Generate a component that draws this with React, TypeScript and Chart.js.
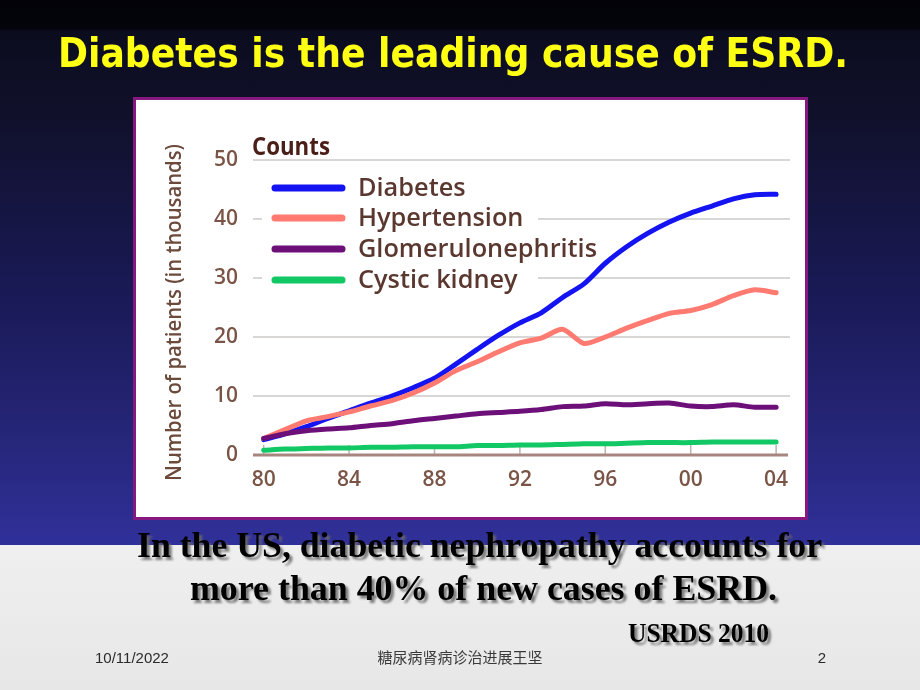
import React, { useEffect, useRef } from "react";
import { Chart, registerables } from "chart.js";

Chart.register(...registerables);

const years = [1980, 1981, 1982, 1983, 1984, 1985, 1986, 1987, 1988, 1989, 1990, 1991, 1992, 1993, 1994, 1995, 1996, 1997, 1998, 1999, 2000, 2001, 2002, 2003, 2004];
const diabetes = [2.6, 3.6, 4.8, 6.2, 7.5, 8.8, 10.0, 11.4, 13.0, 15.4, 17.9, 20.3, 22.4, 24.1, 26.7, 29.0, 32.5, 35.3, 37.6, 39.5, 41.0, 42.2, 43.4, 44.1, 44.2];
const hypertension = [2.8, 4.3, 5.8, 6.5, 7.3, 8.3, 9.2, 10.5, 12.2, 14.3, 15.8, 17.5, 19.0, 19.8, 21.3, 18.9, 20.0, 21.5, 22.8, 24.0, 24.5, 25.5, 27.0, 28.0, 27.5];
const glomerulonephritis = [2.8, 3.6, 4.1, 4.4, 4.6, 5.0, 5.3, 5.8, 6.2, 6.6, 7.0, 7.2, 7.4, 7.7, 8.2, 8.3, 8.7, 8.5, 8.7, 8.8, 8.3, 8.2, 8.5, 8.1, 8.1];
const cysticKidney = [0.8, 1.0, 1.1, 1.2, 1.2, 1.3, 1.3, 1.4, 1.4, 1.4, 1.6, 1.6, 1.7, 1.7, 1.8, 1.9, 1.9, 2.0, 2.1, 2.1, 2.1, 2.2, 2.2, 2.2, 2.2];
const xTickYears = [1980, 1984, 1988, 1992, 1996, 2000, 2004];
const seriesLabels = ["Diabetes", "Hypertension", "Glomerulonephritis", "Cystic kidney"];
const seriesColors = ["#1414f2", "#ff7a70", "#6c0f78", "#12c864"];
const yTitle = "Number of patients (in thousands)";
const countsLabel = "Counts";

const FONT = "'Open Sans', sans-serif";

function fitText(ctx: any, text: string, x: number, y: number, width: number) {
  const w = ctx.measureText(text).width;
  ctx.save();
  ctx.translate(x, y);
  ctx.scale(width / w, 1);
  ctx.fillText(text, 0, 0);
  ctx.restore();
}

const overlayPlugin = {
  id: "overlay",
  beforeDatasetsDraw(chart: any) {
    const { ctx, chartArea, scales } = chart;
    const x = scales.x;
    ctx.save();
    ctx.strokeStyle = "#bdb3b0";
    ctx.lineWidth = 1.5;
    xTickYears.forEach((yr) => {
      const px = x.getPixelForValue(yr);
      ctx.beginPath();
      ctx.moveTo(px, chartArea.bottom - 10);
      ctx.lineTo(px, chartArea.bottom);
      ctx.stroke();
    });
    ctx.strokeStyle = "#a88680";
    ctx.lineWidth = 3;
    ctx.beginPath();
    ctx.moveTo(chartArea.left, chartArea.bottom);
    ctx.lineTo(chartArea.right - 2, chartArea.bottom);
    ctx.stroke();
    ctx.fillStyle = "#ffffff";
    ctx.fillRect(125, 69, 276, 126);
    ctx.restore();
  },
  afterDraw(chart: any) {
    const { ctx } = chart;
    ctx.save();
    ctx.fillStyle = "#4a1f18";
    ctx.font = `bold 25px ${FONT}`;
    ctx.textAlign = "left";
    ctx.textBaseline = "alphabetic";
    fitText(ctx, countsLabel, 115, 54, 78);

    ctx.save();
    ctx.translate(38, 212);
    ctx.rotate(-Math.PI / 2);
    ctx.fillStyle = "#6b4a3c";
    ctx.font = `600 21px ${FONT}`;
    ctx.textAlign = "left";
    ctx.textBaseline = "middle";
    fitText(ctx, yTitle, -168, 0, 337);
    ctx.restore();

    const rows = [87, 117, 148, 179];
    ctx.font = `600 26px ${FONT}`;
    const scaleW = 239 / ctx.measureText("Glomerulonephritis").width;
    chart.data.datasets.forEach((ds: any) => {
      const idx = seriesLabels.indexOf(ds.label);
      const ry = rows[idx];
      ctx.strokeStyle = ds.borderColor;
      ctx.lineWidth = 7;
      ctx.lineCap = "round";
      ctx.beginPath();
      ctx.moveTo(138, ry);
      ctx.lineTo(205, ry);
      ctx.stroke();
      ctx.fillStyle = "#5a3830";
      ctx.textAlign = "left";
      ctx.textBaseline = "middle";
      const w = ctx.measureText(ds.label).width * scaleW;
      fitText(ctx, ds.label, 221, ry + 1, w);
    });
    ctx.restore();
  },
};

function ChartBox() {
  const ref = useRef<HTMLCanvasElement>(null);
  useEffect(() => {
    const mk = (vals: number[]) => vals.map((v, i) => ({ x: years[i], y: v }));
    const series = [diabetes, hypertension, glomerulonephritis, cysticKidney];
    const orders = [2, 1, 0, 3];
    const chart = new Chart(ref.current as HTMLCanvasElement, {
      type: "line",
      data: {
        datasets: series.map((vals, i) => ({
          label: seriesLabels[i],
          data: mk(vals),
          borderColor: seriesColors[i],
          backgroundColor: seriesColors[i],
          borderWidth: 5,
          pointRadius: 0,
          tension: 0.25,
          borderCapStyle: "round",
          borderJoinStyle: "round",
          order: orders[i],
          fill: false,
        })),
      },
      options: {
        responsive: false,
        animation: false,
        devicePixelRatio: 1,
        layout: { padding: { left: 0, top: 59, right: 15, bottom: 0 } },
        plugins: { legend: { display: false }, tooltip: { enabled: false }, title: { display: false } },
        scales: {
          x: {
            type: "linear",
            min: 1979.5,
            max: 2004.65,
            afterBuildTicks: (s: any) => {
              s.ticks = xTickYears.map((v) => ({ value: v }));
            },
            afterFit: (s: any) => {
              s.height = 62;
            },
            grid: { display: false, drawTicks: false },
            border: { display: false },
            ticks: {
              padding: 12,
              color: "#7a5446",
              font: { family: FONT, size: 21, weight: "600" },
              maxRotation: 0,
              autoSkip: false,
              callback: (v: any) => String(v).slice(2),
            },
          },
          y: {
            min: 0,
            max: 50,
            afterFit: (s: any) => {
              s.width = 116;
            },
            grid: {
              color: (c: any) => (c.tick && c.tick.value === 0 ? "rgba(0,0,0,0)" : "#d9d6d6"),
              lineWidth: 2,
              drawTicks: false,
            },
            border: { display: false },
            ticks: {
              stepSize: 10,
              padding: 15,
              color: "#7a5446",
              font: { family: FONT, size: 21, weight: "600" },
            },
          },
        },
      },
      plugins: [overlayPlugin],
    } as any);
    return () => chart.destroy();
  }, []);
  return (
    <canvas
      ref={ref}
      width={668}
      height={416}
      style={{ position: "absolute", left: 137, top: 101, width: 668, height: 416 }}
    />
  );
}

function ShadowText(props: { x: number; y: number; len: number; size: number; text: string }) {
  const { x, y, len, size, text } = props;
  const common = {
    fontFamily: "'Liberation Serif', 'Times New Roman', serif",
    fontWeight: "bold" as const,
    fontSize: size,
    textLength: len,
    lengthAdjust: "spacingAndGlyphs",
  };
  return (
    <g>
      <text x={x + 3} y={y + 3} {...common} fill="#6a6a6a" filter="url(#blur)" opacity={0.85}>
        {text}
      </text>
      <text x={x} y={y} {...common} fill="#000000">
        {text}
      </text>
    </g>
  );
}

export default function App() {
  useEffect(() => {
    document.body.style.margin = "0";
  }, []);
  return (
    <div style={{ position: "relative", width: 920, height: 690, overflow: "hidden", background: "#ebebeb" }}>
      <div
        style={{
          position: "absolute",
          left: 0,
          top: 0,
          width: 920,
          height: 545,
          background:
            "linear-gradient(180deg, #020207 0px, #04040c 28px, #0c0c1f 32px, #10102a 110px, #1a1a58 300px, #26267a 440px, #30309a 545px)",
        }}
      />
      <div
        style={{
          position: "absolute",
          left: 0,
          top: 545,
          width: 920,
          height: 145,
          background: "linear-gradient(180deg, #efefef 0%, #e7e7e7 100%)",
        }}
      />
      <div
        style={{
          position: "absolute",
          left: 133,
          top: 97,
          width: 675,
          height: 423,
          boxSizing: "border-box",
          border: "3px solid #86197f",
          background: "#ffffff",
        }}
      />
      <ChartBox />
      <svg
        width={920}
        height={690}
        style={{ position: "absolute", left: 0, top: 0, pointerEvents: "none" }}
      >
        <defs>
          <filter id="blur" x="-5%" y="-20%" width="110%" height="140%">
            <feGaussianBlur stdDeviation="1.3" />
          </filter>
        </defs>
        <text
          x={58}
          y={67}
          textLength={790}
          lengthAdjust="spacingAndGlyphs"
          fontFamily="'DejaVu Sans', sans-serif"
          fontWeight="bold"
          fontSize={40}
          fill="#ffff14"
        >
          Diabetes is the leading cause of ESRD.
        </text>
        <ShadowText x={137} y={557} len={685} size={36} text="In the US, diabetic nephropathy accounts for" />
        <ShadowText x={190} y={600} len={587} size={36} text="more than 40% of new cases of ESRD." />
        <ShadowText x={628} y={642} len={141} size={28} text="USRDS 2010" />
        <text x={95} y={663} fontFamily="'Liberation Sans', Arial, sans-serif" fontSize={15} fill="#2a2a2a">
          10/11/2022
        </text>
        <text
          x={460}
          y={663}
          textAnchor="middle"
          fontFamily="'Noto Sans CJK SC', sans-serif"
          fontSize={15}
          fill="#3a3a3a"
        >
          糖尿病肾病诊治进展王坚
        </text>
        <text x={822} y={663} textAnchor="middle" fontFamily="'Liberation Sans', Arial, sans-serif" fontSize={15} fill="#2a2a2a">
          2
        </text>
      </svg>
    </div>
  );
}
